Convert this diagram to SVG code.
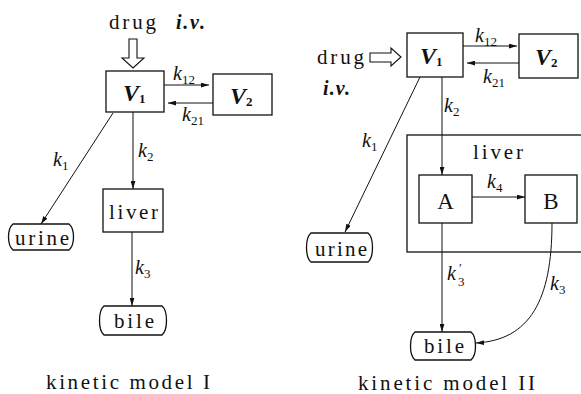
<svg xmlns="http://www.w3.org/2000/svg" width="581" height="394" viewBox="0 0 581 394" font-family="Liberation Serif, DejaVu Serif, serif">
<style>
text{fill:#111}
.t{font-size:21px}
.cap{font-size:21px}
.k{font-size:20px;font-style:italic}
.s{font-size:13px;font-style:normal}
.V{font-size:24px;font-style:italic;font-weight:bold}
.iv{font-size:20px;font-style:italic;font-weight:bold}
.AB{font-size:23px}
.box{fill:#fff;stroke:#111;stroke-width:1.3}
.ln{fill:none;stroke:#111;stroke-width:1}
.hol{fill:#fff;stroke:#111;stroke-width:1.1}
</style>
<defs>
<marker id="ah" viewBox="0 0 10 6" refX="10" refY="3" markerWidth="8" markerHeight="5" markerUnits="userSpaceOnUse" orient="auto">
<path d="M0,0 L10,3 L0,6 Z" fill="#111"/>
</marker>
</defs>
<rect width="581" height="394" fill="#fff"/>

<!-- ===== Model I ===== -->
<g id="m1-drug">
<text class="t" x="109" y="29" textLength="47">drug</text>
<text class="iv" x="176" y="29" textLength="29">i.v.</text>
<polygon class="hol" points="129,39 137,39 137,58 144,58 133,68 122,58 129,58"/>
</g>
<g id="m1-V1">
<rect class="box" x="106" y="71" width="58" height="41"/>
<text class="V" x="123" y="101">V<tspan class="s" font-size="14" dy="2">1</tspan></text>
</g>
<g id="m1-V2">
<rect class="box" x="213" y="74" width="59" height="41"/>
<text class="V" x="230" y="104">V<tspan class="s" font-size="14" dy="2">2</tspan></text>
</g>
<g id="m1-liver">
<rect class="box" x="103" y="189" width="60" height="43"/>
<text class="t" x="109" y="219" textLength="49">liver</text>
</g>
<g id="m1-urine">
<path class="box" d="M13,224 H69 C75,229 75,245 69,250 H13 C7,245 7,229 13,224 Z"/>
<text class="t" x="15" y="245" textLength="54">urine</text>
</g>
<g id="m1-bile">
<path class="box" d="M104,306 H162 C168,311 168,330 162,335 H104 C98,330 98,311 104,306 Z"/>
<text class="t" x="114" y="328" textLength="40">bile</text>
</g>
<g id="m1-connectors">
<line class="ln" x1="164" y1="85" x2="209" y2="85" marker-end="url(#ah)"/>
<line class="ln" x1="213" y1="103" x2="168" y2="103" marker-end="url(#ah)"/>
<line class="ln" x1="133" y1="112" x2="133" y2="189" marker-end="url(#ah)"/>
<line class="ln" x1="113" y1="113" x2="41" y2="224" marker-end="url(#ah)"/>
<line class="ln" x1="132" y1="232" x2="132" y2="306" marker-end="url(#ah)"/>
<text class="k" x="173" y="80">k<tspan class="s" dy="4">12</tspan></text>
<text class="k" x="182" y="121">k<tspan class="s" dy="4">21</tspan></text>
<text class="k" x="138" y="157">k<tspan class="s" dy="4">2</tspan></text>
<text class="k" x="53" y="166">k<tspan class="s" dy="4">1</tspan></text>
<text class="k" x="135" y="274">k<tspan class="s" dy="4">3</tspan></text>
</g>
<g id="m1-caption">
<text class="cap" x="46" y="389" textLength="164">kinetic  model I</text>
</g>

<!-- ===== Model II ===== -->
<g id="m2-drug">
<text class="t" x="317" y="64" textLength="47">drug</text>
<text class="iv" x="323" y="95" textLength="27">i.v.</text>
<polygon class="hol" points="370,53 391,53 391,48 401,57 391,66 391,62 370,62"/>
</g>
<g id="m2-V1">
<rect class="box" x="407" y="33" width="56" height="44"/>
<text class="V" x="420" y="64">V<tspan class="s" font-size="14" dy="2">1</tspan></text>
</g>
<g id="m2-V2">
<rect class="box" x="519" y="34" width="59" height="44"/>
<text class="V" x="535" y="65">V<tspan class="s" font-size="14" dy="2">2</tspan></text>
</g>
<g id="m2-liver">
<rect class="box" x="407" y="135" width="200" height="117"/>
<text class="t" x="473" y="159" textLength="50">liver</text>
</g>
<g id="m2-A">
<rect class="box" x="419" y="175" width="53" height="48"/>
<text class="AB" x="445.5" y="209" text-anchor="middle">A</text>
</g>
<g id="m2-B">
<rect class="box" x="525" y="175" width="52" height="48"/>
<text class="AB" x="551" y="209" text-anchor="middle">B</text>
</g>
<g id="m2-urine">
<path class="box" d="M311,233 H368 C374,238 374,257 368,262 H311 C305,257 305,238 311,233 Z"/>
<text class="t" x="315" y="256" textLength="52">urine</text>
</g>
<g id="m2-bile">
<path class="box" d="M415,332 H471 C477,337 477,355 471,360 H415 C409,355 409,337 415,332 Z"/>
<text class="t" x="424" y="353" textLength="40">bile</text>
</g>
<g id="m2-connectors">
<line class="ln" x1="463" y1="46" x2="517" y2="46" marker-end="url(#ah)"/>
<line class="ln" x1="519" y1="63" x2="467" y2="63" marker-end="url(#ah)"/>
<line class="ln" x1="442" y1="77" x2="442" y2="175" marker-end="url(#ah)"/>
<line class="ln" x1="420" y1="77" x2="345" y2="232" marker-end="url(#ah)"/>
<line class="ln" x1="472" y1="197" x2="525" y2="197" marker-end="url(#ah)"/>
<line class="ln" x1="442" y1="223" x2="442" y2="332" marker-end="url(#ah)"/>
<path class="ln" d="M552,223 C552,300 530,340 476,343" marker-end="url(#ah)"/>
<text class="k" x="475" y="42">k<tspan class="s" dy="4">12</tspan></text>
<text class="k" x="483" y="83">k<tspan class="s" dy="4">21</tspan></text>
<text class="k" x="444" y="112">k<tspan class="s" dy="4">2</tspan></text>
<text class="k" x="362" y="147">k<tspan class="s" dy="4">1</tspan></text>
<text class="k" x="487" y="188">k<tspan class="s" dy="4">4</tspan></text>
<text class="k" x="447" y="280">k<tspan class="s" x="459" dy="-8">′</tspan><tspan class="s" x="458" dy="14">3</tspan></text>
<text class="k" x="550" y="290">k<tspan class="s" dy="4">3</tspan></text>
</g>
<g id="m2-caption">
<text class="cap" x="358" y="390" textLength="177">kinetic  model II</text>
</g>
</svg>
